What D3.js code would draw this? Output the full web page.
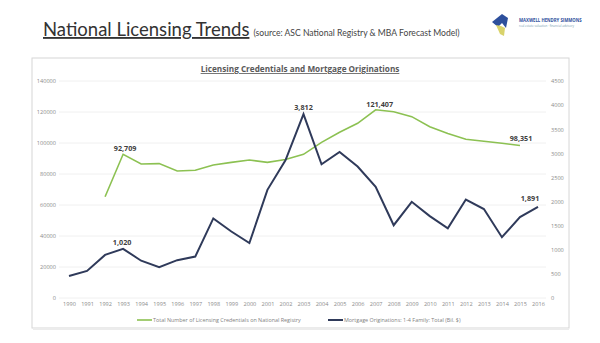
<!DOCTYPE html>
<html>
<head>
<meta charset="utf-8">
<script src="https://cdn.jsdelivr.net/npm/d3@7"></script>
<style>
  body { margin: 0; background: #fff; }
  svg { display: block; font-family: "Open Sans", "Liberation Sans", sans-serif; }
</style>
</head>
<body>
<svg width="600" height="343"></svg>
<script>
// years on the x axis
const years = d3.range(1990, 2017).map(String)

// total licensing credentials on the national registry (left axis), starts 1992
const credYears = ['1992','1993','1994','1995','1996','1997','1998','1999','2000','2001','2002','2003',
  '2004','2005','2006','2007','2008','2009','2010','2011','2012','2013','2014','2015']
const credentials = [65300, 92709, 86500, 86700, 81900, 82400, 85800, 87500, 89000, 87500, 89400, 92700,
  100400, 106900, 112700, 121407, 120200, 117000, 110500, 106200, 102400, 101100, 99800, 98351]

// mortgage originations 1-4 family, bil. $ (right axis)
const originations = [458, 562, 894, 1020, 773, 639, 785, 859, 1650, 1379, 1139, 2243, 2854, 3812,
  2773, 3027, 2726, 2306, 1509, 1995, 1698, 1444, 2042, 1845, 1261, 1679, 1891]

const leftTicks = d3.range(0, 140001, 20000)
const rightTicks = d3.range(0, 4501, 500)

// labelled points: [series, year, text, dx, dy]
const callouts = [
  ['cred', '1993', '92,709', 2, -3],
  ['cred', '2007', '121,407', 4, -3],
  ['cred', '2015', '98,351', 1, -5],
  ['orig', '1993', '1,020', -1, -4],
  ['orig', '2003', '3,812', 0, -4],
  ['orig', '2016', '1,891', -8, -6]
]

const green = '#8cc152'
const navy = '#2f3a5a'

const svg = d3.select('svg')

// header
const title = svg.append('text').attr('x', 43).attr('y', 36).attr('fill', '#333')
  .attr('font-family', 'Lato, sans-serif')
  .attr('font-size', 18.5).attr('text-decoration', 'underline')
  .text('National Licensing Trends')
const tw = title.node().getComputedTextLength()
svg.append('text').attr('x', 43 + tw + 4).attr('y', 36).attr('fill', '#444')
  .attr('font-family', 'Lato, sans-serif').attr('font-size', 8.6)
  .text('(source: ASC National Registry & MBA Forecast Model)')

// logo (rough)
const logo = svg.append('g').attr('transform', 'translate(492,14)')
logo.append('path').attr('d', 'M0,8 L10,0 L16,4 L14,14 L10,9 L6,13 Z').attr('fill', '#2d4f9c')
logo.append('path').attr('d', 'M4,11 L8,20 L12,22 L13,14 L9,12 Z').attr('fill', '#d9d36b')
logo.append('text').attr('x', 27).attr('y', 8).attr('font-size', 4.3).attr('font-weight', 'bold')
  .attr('fill', '#2d4f9c').text('MAXWELL HENDRY SIMMONS')
logo.append('text').attr('x', 27).attr('y', 13).attr('font-size', 3).attr('fill', '#7aa0b0')
  .text('real estate valuation · financial advisory')

// chart box
svg.append('rect').attr('x', 32).attr('y', 58).attr('width', 537).attr('height', 270)
  .attr('fill', '#fff').attr('stroke', '#d6d6d6').attr('stroke-width', 1)
svg.append('line').attr('x1', 33).attr('x2', 569).attr('y1', 329).attr('y2', 329)
  .attr('stroke', '#ececec').attr('stroke-width', 2)

svg.append('text').attr('x', 300).attr('y', 72).attr('text-anchor', 'middle')
  .attr('font-size', 8.2).attr('font-weight', 'bold').attr('fill', '#595959')
  .attr('text-decoration', 'underline')
  .text('Licensing Credentials and Mortgage Originations')

const x = d3.scalePoint().domain(years).range([69, 538])
const yL = d3.scaleLinear().domain([0, 140000]).range([298, 81])
const yR = d3.scaleLinear().domain([0, 4500]).range([298, 81])

// grid
svg.append('g').selectAll('line').data(leftTicks).join('line')
  .attr('x1', 59).attr('x2', 546)
  .attr('y1', d => yL(d)).attr('y2', d => yL(d))
  .attr('stroke', '#ececec').attr('stroke-width', 0.8)

const axisStyle = g => {
  g.select('.domain').remove()
  g.selectAll('.tick line').remove()
  g.selectAll('text').attr('fill', '#8c8c8c').attr('font-size', 5.6)
    .attr('font-family', '"Open Sans", sans-serif')
}

svg.append('g').attr('transform', 'translate(56,0)')
  .call(d3.axisLeft(yL).tickValues(leftTicks).tickFormat(d3.format('d')).tickSize(0).tickPadding(0))
  .call(axisStyle)

svg.append('g').attr('transform', 'translate(551,0)')
  .call(d3.axisRight(yR).tickValues(rightTicks).tickFormat(d3.format('d')).tickSize(0).tickPadding(0))
  .call(axisStyle)

svg.append('g').attr('transform', 'translate(0,302)')
  .call(d3.axisBottom(x).tickSize(0).tickPadding(0))
  .call(axisStyle)
  .selectAll('text').attr('dy', '0.7em')

// lines
const credData = credYears.map((yr, i) => ({ yr, v: credentials[i] }))
const origData = years.map((yr, i) => ({ yr, v: originations[i] }))

svg.append('path').datum(credData)
  .attr('d', d3.line().x(d => x(d.yr)).y(d => yL(d.v)))
  .attr('fill', 'none').attr('stroke', green).attr('stroke-width', 1.6)

svg.append('path').datum(origData)
  .attr('d', d3.line().x(d => x(d.yr)).y(d => yR(d.v)))
  .attr('fill', 'none').attr('stroke', navy).attr('stroke-width', 2)

// callouts
svg.append('g').selectAll('text').data(callouts).join('text')
  .attr('x', d => x(d[1]) + d[3])
  .attr('y', d => {
    const v = d[0] === 'cred' ? credentials[credYears.indexOf(d[1])] : originations[years.indexOf(d[1])]
    return (d[0] === 'cred' ? yL(v) : yR(v)) + d[4]
  })
  .attr('text-anchor', 'middle').attr('font-size', 7.2).attr('font-weight', 'bold')
  .attr('fill', '#404040').text(d => d[2])

// legend
const legend = [
  { label: 'Total Number of Licensing Credentials on National Registry', color: green, x: 137, w: 1.6 },
  { label: 'Mortgage Originations: 1-4 Family: Total (Bil. $)', color: navy, x: 328, w: 2 }
]
const lg = svg.append('g').selectAll('g').data(legend).join('g')
  .attr('transform', d => `translate(${d.x},320)`)
lg.append('line').attr('x1', 0).attr('x2', 15).attr('stroke', d => d.color).attr('stroke-width', d => d.w)
lg.append('text').attr('x', 16).attr('dy', '0.35em').attr('font-size', 5.4).attr('fill', '#7f7f7f')
  .text(d => d.label)
</script>
</body>
</html>
